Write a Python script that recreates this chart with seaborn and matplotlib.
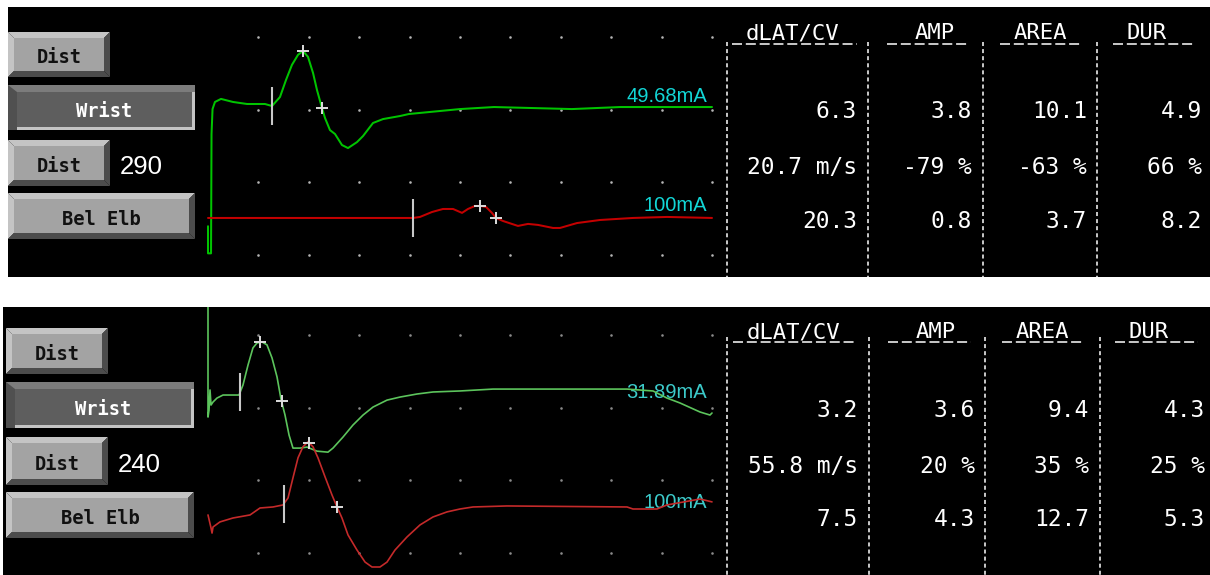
import numpy as np
import pandas as pd
import matplotlib
matplotlib.use("Agg")
import matplotlib.pyplot as plt
from matplotlib.patches import Polygon, Rectangle
import seaborn as sns

# ------------------------------------------------------------------ data
# Waveforms: time in ms, amplitude in mV relative to each trace's own baseline
top_wrist_ms = [0.0, 0.0, 0.30, 0.35, 0.45, 0.69, 1.29, 2.48, 3.87, 5.65,
                6.35, 7.14, 7.74, 8.33, 8.93, 9.42, 9.92, 10.42, 10.81, 11.31,
                11.61, 12.10, 12.60, 13.29, 13.89, 14.78, 15.38, 16.37, 17.36, 19.05,
                19.94, 25.0, 28.37, 36.1, 40.87, 50.0]
top_wrist_mv = [-8.43, -10.30, -10.30, -2.07, -0.35, 0.14, 0.35, 0.14, 0.0, 0.0,
                -0.14, 0.48, 1.66, 2.70, 3.39, 3.66, 3.25, 2.14, 0.97, -0.28,
                -0.97, -1.80, -2.07, -2.83, -3.04, -2.63, -2.21, -1.31, -1.04, -0.83,
                -0.69, -0.35, -0.21, -0.35, -0.21, -0.21]
top_elb_ms = [0.0, 20.34, 21.03, 22.22, 23.31, 24.31, 25.20, 25.79, 26.49, 26.98,
              27.58, 28.17, 28.57, 29.27, 30.75, 31.75, 32.74, 34.23, 34.92, 36.61,
              38.89, 42.16, 45.54, 50.0]
top_elb_mv = [0.0, 0.0, 0.07, 0.41, 0.62, 0.62, 0.35, 0.62, 0.83, 0.83,
              0.76, 0.35, 0.0, -0.21, -0.55, -0.41, -0.48, -0.69, -0.69, -0.35,
              -0.14, 0.0, 0.07, 0.0]
bot_wrist_ms = [0.0, 0.0, 0.10, 0.20, 0.30, 0.50, 0.89, 1.49, 2.48, 3.08,
                3.47, 3.97, 4.46, 4.86, 5.36, 5.85, 6.35, 6.85, 7.24, 7.64,
                8.04, 8.43, 9.13, 9.82, 10.81, 11.90, 12.40, 13.39, 14.38, 15.38,
                16.37, 17.76, 19.05, 20.73, 22.32, 25.0, 28.27, 41.57, 44.15, 45.54,
                46.83, 48.81, 49.80, 50.0]
bot_wrist_mv = [8.0, -1.52, -1.04, 0.35, -0.69, -0.48, -0.21, 0.0, 0.0, 0.0,
                0.69, 2.07, 3.25, 3.59, 3.66, 3.46, 2.56, 1.24, -0.28, -1.38,
                -2.76, -3.66, -3.66, -3.59, -3.87, -3.94, -3.66, -2.90, -2.07, -1.38,
                -0.83, -0.35, -0.14, 0.07, 0.21, 0.28, 0.41, 0.41, 0.28, -0.21,
                -0.55, -1.17, -1.38, -1.24]
bot_elb_ms = [0.0, 0.30, 0.40, 0.50, 1.19, 2.48, 4.17, 5.16, 6.45, 7.44,
              7.94, 8.43, 8.93, 9.42, 9.92, 10.42, 10.91, 11.61, 12.30, 12.80,
              13.29, 13.89, 14.78, 15.58, 16.27, 17.06, 17.76, 18.55, 19.74, 21.03,
              22.32, 23.71, 25.0, 26.29, 29.66, 41.57, 42.16, 44.54, 45.54, 48.81,
              50.0]
bot_elb_mv = [-0.69, -1.59, -1.94, -1.52, -1.17, -0.90, -0.69, -0.21, -0.14, 0.0,
              0.48, 1.87, 3.25, 4.01, 4.35, 4.01, 3.25, 1.94, 0.69, -0.14,
              -0.90, -2.07, -3.11, -3.94, -4.28, -4.28, -3.94, -3.11, -2.21, -1.38,
              -0.83, -0.48, -0.28, -0.14, -0.07, -0.14, -0.28, -0.28, 0.0, 0.41,
              0.21]

# Cursor times (ms): onset, negative peak, end
top_wrist_cursors = [6.3, 9.4, 11.3]
top_elb_cursors = [20.3, 27.0, 28.6]
bot_wrist_cursors = [3.2, 5.2, 7.3]
bot_elb_cursors = [7.5, 10.0, 12.8]

stim_top = ["49.68mA", "100mA"]
stim_bot = ["31.89mA", "100mA"]
button_labels = ["Dist", "Wrist", "Dist", "Bel Elb"]
distances = ["290", "240"]
table_headers = ["dLAT/CV", "AMP", "AREA", "DUR"]
top_table = [["6.3", "3.8", "10.1", "4.9"],
             ["20.7 m/s", "-79 %", "-63 %", "66 %"],
             ["20.3", "0.8", "3.7", "8.2"]]
bot_table = [["3.2", "3.6", "9.4", "4.3"],
             ["55.8 m/s", "20 %", "35 %", "25 %"],
             ["7.5", "4.3", "12.7", "5.3"]]

grid_ms = [5, 10, 15, 20, 25, 30, 35, 40, 45, 50]
grid_mv = [-5, 0, 5, 10]

# ------------------------------------------------------------------ style
sns.set_theme(style="white")
plt.rcParams["lines.scale_dashes"] = False
plt.rcParams["font.family"] = ["DejaVu Sans"]

W, H = 1210, 575
PX_PER_MS = 10.08
PX_PER_MV = 14.5
TRACE_X0 = 208
MONO = "DejaVu Sans Mono"
SANS = "Liberation Sans"

fig = plt.figure(figsize=(W / 100, H / 100), dpi=100, facecolor="white")


def px_axes(x0, y0, x1, y1):
    return fig.add_axes([x0 / W, 1 - y1 / H, (x1 - x0) / W, (y1 - y0) / H])


def raised_button(ax, x0, y0, x1, y1, label, text_y, b=6):
    light, dark, face = "#c4c4c4", "#4c4c4c", "#a3a3a3"
    ax.add_patch(Polygon([(x0, y0), (x1, y0), (x1 - b, y0 + b), (x0 + b, y0 + b)], color=light, lw=0))
    ax.add_patch(Polygon([(x0, y0), (x0 + b, y0 + b), (x0 + b, y1 - b), (x0, y1)], color=light, lw=0))
    ax.add_patch(Polygon([(x1, y0), (x1, y1), (x1 - b, y1 - b), (x1 - b, y0 + b)], color=dark, lw=0))
    ax.add_patch(Polygon([(x0, y1), (x1, y1), (x1 - b, y1 - b), (x0 + b, y1 - b)], color=dark, lw=0))
    ax.add_patch(Rectangle((x0 + b, y0 + b), x1 - x0 - 2 * b, y1 - y0 - 2 * b, color=face, lw=0))
    ax.text((x0 + x1) / 2, text_y, label, ha="center", va="baseline", color="#111111",
            family=MONO, fontweight="bold", fontsize=13.5)


def pressed_button(ax, x0, y0, x1, y1, label, text_y):
    ax.add_patch(Rectangle((x0, y0), x1 - x0, y1 - y0, color="#7c7c7c", lw=0))
    ax.add_patch(Polygon([(x0, y0), (x0 + 9, y0 + 7), (x0 + 9, y1), (x0, y1)], color="#505050", lw=0))
    ax.add_patch(Rectangle((x0 + 9, y1 - 3), x1 - x0 - 9, 3, color="#c4c4c4", lw=0))
    ax.add_patch(Rectangle((x1 - 3, y0 + 7), 3, y1 - y0 - 7, color="#c4c4c4", lw=0))
    ax.add_patch(Rectangle((x0 + 9, y0 + 7), x1 - x0 - 12, y1 - y0 - 10, color="#5e5e5e", lw=0))
    ax.text((x0 + x1) / 2 + 3, text_y, label, ha="center", va="baseline", color="white",
            family=MONO, fontweight="bold", fontsize=13.5)


def draw_trace(tax, ms, mv, offset, color, cursors, lw):
    y = np.asarray(mv) + offset
    sns.lineplot(x=ms, y=y, sort=False, estimator=None, color=color, linewidth=lw, ax=tax)
    cy = np.interp(cursors, ms, mv) + offset
    onset = pd.DataFrame({"t": [cursors[0]], "y": [cy[0]]})
    sns.scatterplot(data=onset, x="t", y="y", marker="|", s=760, color="#c8c8c8",
                    edgecolor="#c8c8c8", linewidth=1.5, ax=tax, zorder=5)
    cross = pd.DataFrame({"t": cursors[1:], "y": cy[1:]})
    sns.scatterplot(data=cross, x="t", y="y", marker="+", s=85, color="#dcdcdc",
                    edgecolor="#dcdcdc", linewidth=1.4, ax=tax, zorder=5)


panels = [
    dict(box=(8, 7, 1210, 277), zero_px=182, lw=1.45,
         traces=[(top_wrist_ms, top_wrist_mv, 5.38, "#00c400", top_wrist_cursors),
                 (top_elb_ms, top_elb_mv, -2.48, "#c40000", top_elb_cursors)],
         stim=stim_top, stim_base=[102, 211], stim_color="#12d6d6",
         buttons=[(8, 32, 110, 77), (8, 85, 195, 130), (8, 140, 110, 186), (8, 193, 195, 239)],
         btn_text=[63, 117, 172, 225], dist=distances[0], dist_xy=(120, 174),
         table=top_table, rows=[118, 174, 228], col_right=[857, 972, 1087, 1202],
         head_start=[732, 887, 1000, 1113], head_end=[857, 969, 1082, 1195],
         head_base=39, head_line=43.5, sep_x=[727, 868, 983, 1097], sep_top=42,
         dot_color="#b4b4b4"),
    dict(box=(3, 307, 1210, 575), zero_px=480, lw=1.2,
         traces=[(bot_wrist_ms, bot_wrist_mv, 5.86, "#5cc45c", bot_wrist_cursors),
                 (bot_elb_ms, bot_elb_mv, -1.72, "#c42a2a", bot_elb_cursors)],
         stim=stim_bot, stim_base=[398, 508], stim_color="#3ccaca",
         buttons=[(6, 328, 108, 374), (6, 382, 194, 428), (6, 437, 108, 485), (6, 492, 194, 538)],
         btn_text=[360, 415, 470, 524], dist=distances[1], dist_xy=(118, 472),
         table=bot_table, rows=[417, 473, 526], col_right=[858, 975, 1089, 1205],
         head_start=[733, 888, 1002, 1115], head_end=[857, 971, 1083, 1198],
         head_base=338, head_line=341.5, sep_x=[727, 869, 985, 1100], sep_top=337,
         dot_color="#8a8a8a"),
]
head_pad = [1, 2, 1, 1]
CELL = 13.85

for p in panels:
    x0, y0, x1, y1 = p["box"]
    ax = px_axes(x0, y0, x1, y1)
    ax.set_facecolor("black")
    ax.set_xlim(x0, x1)
    ax.set_ylim(y1, y0)
    ax.set_xticks([])
    ax.set_yticks([])
    for s in ax.spines.values():
        s.set_visible(False)

    # buttons
    for i, (bx0, by0, bx1, by1) in enumerate(p["buttons"]):
        if button_labels[i] == "Wrist":
            pressed_button(ax, bx0, by0, bx1, by1, button_labels[i], p["btn_text"][i])
        else:
            raised_button(ax, bx0, by0, bx1, by1, button_labels[i], p["btn_text"][i])
    ax.text(p["dist_xy"][0], p["dist_xy"][1], p["dist"], ha="left", va="baseline",
            color="white", family=SANS, fontsize=18.5)

    # stimulus intensity labels
    for lab, yb in zip(p["stim"], p["stim_base"]):
        ax.text(707, yb, lab, ha="right", va="baseline", color=p["stim_color"],
                family=SANS, fontsize=14.5, zorder=6)

    # table
    ax.vlines(p["sep_x"], p["sep_top"], y1, colors="white", linewidth=1.1,
              linestyles=[(0, (2.9, 2.2))])
    for j, head in enumerate(table_headers):
        ax.text(p["head_start"][j] + head_pad[j] * CELL, p["head_base"], head, ha="left",
                va="baseline", color="white", family=MONO, fontsize=16)
        ax.hlines(p["head_line"], p["head_start"][j], p["head_end"][j], colors="white",
                  linewidth=1.1, linestyles=[(0, (7.2, 2.75))])
    for r, row in enumerate(p["table"]):
        for j, val in enumerate(row):
            ax.text(p["col_right"][j], p["rows"][r], val, ha="right", va="baseline",
                    color="white", family=MONO, fontsize=16.5)

    # trace area (ms / mV scales)
    zero = p["zero_px"]
    tax = px_axes(TRACE_X0 - 12, y0, TRACE_X0 + 50 * PX_PER_MS + 12, y1)
    tax.set_facecolor("none")
    tax.set_xlim(-12 / PX_PER_MS, 50 + 12 / PX_PER_MS)
    tax.set_ylim((zero - y1) / PX_PER_MV, (zero - y0) / PX_PER_MV)
    tax.set_axis_off()
    dots = pd.DataFrame([(t, v) for t in grid_ms for v in grid_mv], columns=["t", "v"])
    sns.scatterplot(data=dots, x="t", y="v", s=3.5, color=p["dot_color"], linewidth=0, ax=tax)
    for ms, mv, off, col, cur in p["traces"]:
        draw_trace(tax, ms, mv, off, col, cur, p["lw"])

fig.savefig("out.png", dpi=100, facecolor="white")
